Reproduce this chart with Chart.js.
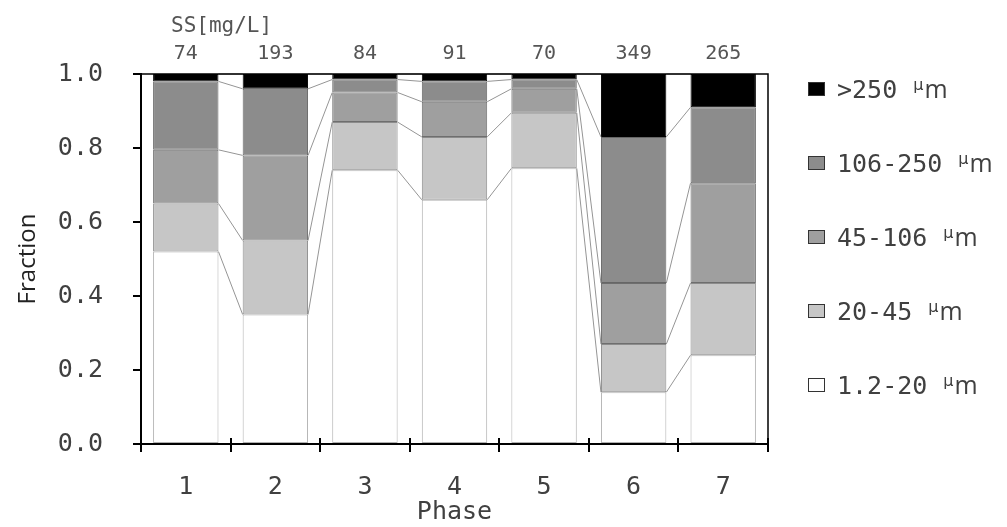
<!DOCTYPE html>
<html>
<head>
<meta charset="utf-8">
<script src="https://cdn.jsdelivr.net/npm/chart.js@4.4.1/dist/chart.umd.min.js"></script>
<style>
  html, body { margin: 0; padding: 0; background: #fff; }
  #caja { width: 1007px; height: 527px; }
</style>
</head>
<body>
<div id="caja"><canvas id="grafico"></canvas></div>
<script>
// fracciones por tamaño de particula en cada fase
const fases = ['1', '2', '3', '4', '5', '6', '7']
const ss = [74, 193, 84, 91, 70, 349, 265]
const f1_20 = [0.52, 0.35, 0.74, 0.66, 0.745, 0.14, 0.24]
const f20_45 = [0.13, 0.20, 0.13, 0.17, 0.15, 0.13, 0.195]
const f45_106 = [0.145, 0.23, 0.08, 0.095, 0.065, 0.165, 0.27]
const f106_250 = [0.185, 0.18, 0.035, 0.055, 0.025, 0.395, 0.205]
const f250 = [0.02, 0.04, 0.015, 0.02, 0.015, 0.17, 0.09]
const yTicks = [0, 0.2, 0.4, 0.6, 0.8, 1.0]

const MONO = '"DejaVu Sans Mono", monospace'
const GRIS_TXT = '#404040'

const serie = (label, data, fondo, borde) => ({
    label: label,
    data: data,
    backgroundColor: fondo,
    borderColor: borde,
    borderWidth: 1,
    borderSkipped: false,
    barPercentage: 0.73,
    categoryPercentage: 1
})

// lineas entre barras, marco y textos extra
const extras = {
    id: 'extras',
    afterDatasetsDraw(chart) {
        const ctx = chart.ctx
        ctx.save()
        ctx.strokeStyle = '#959595'
        ctx.lineWidth = 1
        chart.data.datasets.forEach((ds, d) => {
            const barras = chart.getDatasetMeta(d).data
            for (let i = 0; i < barras.length - 1; i++) {
                const a = barras[i], b = barras[i + 1]
                ctx.beginPath()
                ctx.moveTo(a.x + a.width / 2, a.y)
                ctx.lineTo(b.x - b.width / 2, b.y)
                ctx.stroke()
            }
        })
        ctx.restore()
    },
    afterDraw(chart) {
        const ctx = chart.ctx
        const area = chart.chartArea
        const x = chart.scales.x
        ctx.save()

        // marco superior y derecho
        ctx.strokeStyle = '#000'
        ctx.lineWidth = 1.5
        ctx.beginPath()
        ctx.moveTo(area.left, area.top)
        ctx.lineTo(area.right, area.top)
        ctx.lineTo(area.right, area.bottom)
        ctx.stroke()

        // parte interior de las marcas del eje x
        ctx.lineWidth = 2
        const paso = (area.right - area.left) / fases.length
        for (let i = 0; i <= fases.length; i++) {
            const px = Math.round(area.left + i * paso)
            ctx.beginPath()
            ctx.moveTo(px, area.bottom - 6)
            ctx.lineTo(px, area.bottom)
            ctx.stroke()
        }

        // SS sobre cada fase
        ctx.fillStyle = '#555'
        ctx.font = '20px ' + MONO
        ctx.textBaseline = 'middle'
        ctx.textAlign = 'center'
        ss.forEach((v, i) => ctx.fillText(String(v), x.getPixelForValue(i), 54))
        ctx.textAlign = 'left'
        ctx.font = '21px ' + MONO
        ctx.fillText('SS[mg/L]', 171, 27)

        // leyenda
        const items = chart.data.datasets.slice().reverse()
        items.forEach((ds, k) => {
            const y = 89 + k * 74
            ctx.fillStyle = ds.backgroundColor
            ctx.fillRect(808, y - 7, 17, 14)
            ctx.strokeStyle = '#333'
            ctx.lineWidth = 1
            ctx.strokeRect(808.5, y - 6.5, 16, 13)

            const txt = ds.label.split(' μm')[0]
            ctx.fillStyle = GRIS_TXT
            ctx.textBaseline = 'alphabetic'
            ctx.font = '25px ' + MONO
            ctx.fillText(txt, 837, y + 9)
            let px = 837 + ctx.measureText(txt).width + 16
            ctx.font = '16px "DejaVu Sans"'
            ctx.fillText('μ', px, y + 1)
            px += ctx.measureText('μ').width + 1
            ctx.font = '25px "Open Sans"'
            ctx.fillText('m', px, y + 9)
        })
        ctx.restore()
    }
}

new Chart(document.getElementById('grafico'), {
    type: 'bar',
    data: {
        labels: fases,
        datasets: [
            serie('1.2-20 μm', f1_20, '#ffffff', '#b0b0b0'),
            serie('20-45 μm', f20_45, '#c6c6c6', '#8c8c8c'),
            serie('45-106 μm', f45_106, '#9f9f9f', '#6e6e6e'),
            serie('106-250 μm', f106_250, '#8c8c8c', '#666666'),
            serie('>250 μm', f250, '#000000', '#000000')
        ]
    },
    options: {
        responsive: true,
        maintainAspectRatio: false,
        animation: false,
        layout: { padding: { left: 0, right: 239, top: 74, bottom: 0 } },
        plugins: {
            legend: { display: false },
            tooltip: { enabled: false }
        },
        scales: {
            x: {
                stacked: true,
                afterFit: s => { s.height = 83 },
                border: { color: '#000', width: 2 },
                grid: {
                    offset: true,
                    drawOnChartArea: false,
                    tickLength: 8,
                    color: '#000',
                    lineWidth: 2
                },
                ticks: { color: GRIS_TXT, font: { family: MONO, size: 25 }, padding: 20 },
                title: {
                    display: true,
                    text: 'Phase',
                    color: GRIS_TXT,
                    font: { family: MONO, size: 25 },
                    padding: { top: 0, bottom: 0 }
                }
            },
            y: {
                stacked: true,
                min: 0,
                max: 1,
                afterFit: s => { s.width = 141 },
                afterBuildTicks: s => { s.ticks = yTicks.map(v => ({ value: v })) },
                border: { color: '#000', width: 2 },
                grid: {
                    drawOnChartArea: false,
                    tickLength: 8,
                    color: '#000',
                    lineWidth: 2
                },
                ticks: {
                    color: GRIS_TXT,
                    font: { family: MONO, size: 25 },
                    padding: 30,
                    callback: v => v.toFixed(1)
                },
                title: {
                    display: true,
                    text: 'Fraction',
                    color: '#222',
                    font: { family: '"Open Sans"', size: 24 },
                    padding: { top: 14, bottom: 0 }
                }
            }
        }
    },
    plugins: [extras]
})
</script>
</body>
</html>
